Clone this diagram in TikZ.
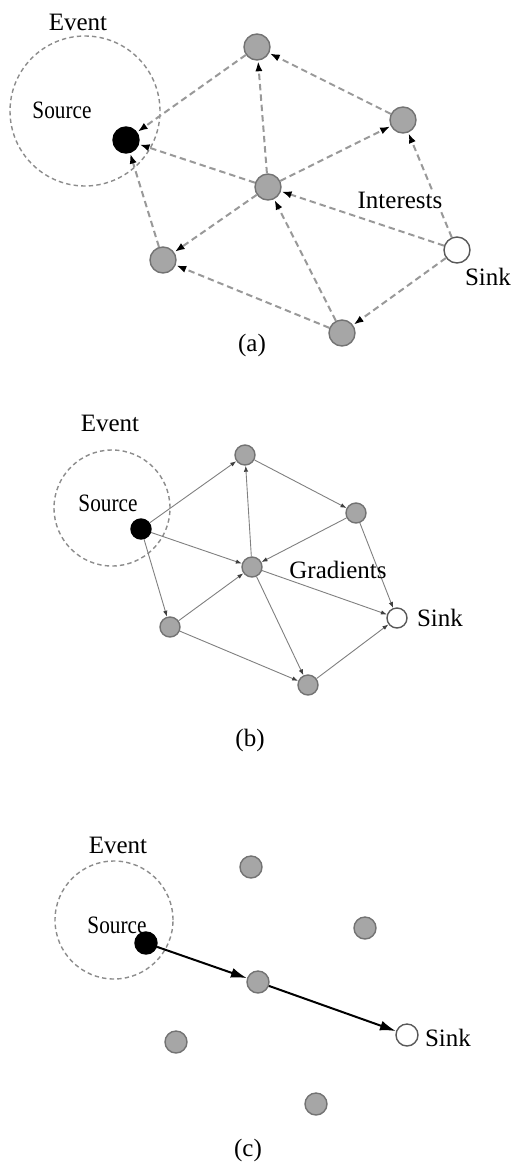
\documentclass[tikz,border=0pt]{standalone}
\usepackage{fontspec}
\usepackage{graphicx}
\setmainfont{Liberation Serif}
\usetikzlibrary{arrows.meta}

\tikzset{
    sensor/.style={circle, draw=black!55, fill=black!35, line width=0.7pt, inner sep=0pt, minimum size=#1},
    sensor/.default=13pt,
    srcnode/.style={sensor=#1, fill=black, draw=black},
    srcnode/.default=13pt,
    sinknode/.style={sensor=#1, fill=white, draw=black!65},
    sinknode/.default=13pt,
    eventring/.style={draw=black!45, line width=0.7pt, dash pattern=on 2.2pt off 1.6pt},
    lbl/.style={font=\fontsize{12.5}{14}\selectfont, inner sep=0pt},
    interest/.style={draw=black!40, line width=1pt, dash pattern=on 3.2pt off 2pt,
        -{Latex[length=5pt,width=3.6pt,black]}, shorten >=0.3pt},
    gradient/.style={draw=black!50, line width=0.45pt,
        -{Latex[length=3pt,width=2.2pt,black!75]}},
    path/.style={draw=black, line width=1pt, -{Latex[length=8pt,width=5pt]}}
}
\newcommand{\srclabel}{\scalebox{0.85}[1]{Source}}

\begin{document}
\begin{tikzpicture}[x=0.5pt, y=-0.5pt]
    \useasboundingbox[fill=white] (0,0) rectangle (514,1168);

    % (a) interests
    \draw[eventring] (85,111) circle (37.5pt);
    \node[lbl] (evA) at (78,22) {Event};
    \node[lbl] (srcA-l) at (62,110) {\srclabel};

    \node[srcnode] (srcA) at (126,140) {};
    \node[sensor] (topA) at (257,47) {};
    \node[sensor] (rgtA) at (403,120) {};
    \node[sensor] (ctrA) at (268,187) {};
    \node[sensor] (lbA) at (163,260) {};
    \node[sensor] (botA) at (342,333) {};
    \node[sinknode] (sinkA) at (457,250) {};

    \draw[interest] (sinkA) -- (rgtA);
    \draw[interest] (sinkA) -- (ctrA);
    \draw[interest] (sinkA) -- (botA);
    \draw[interest] (rgtA) -- (topA);
    \draw[interest] (ctrA) -- (rgtA);
    \draw[interest] (ctrA) -- (topA);
    \draw[interest] (ctrA) -- (srcA);
    \draw[interest] (ctrA) -- (lbA);
    \draw[interest] (botA) -- (ctrA);
    \draw[interest] (botA) -- (lbA);
    \draw[interest] (topA) -- (srcA);
    \draw[interest] (lbA) -- (srcA);

    \node[lbl, fill=white, inner sep=0.5pt] (intA) at (400,200) {Interests};
    \node[lbl] (sinkA-l) at (488,277) {Sink};
    \node[lbl] (capA) at (252,345) {(a)};

    % (b) gradients
    \draw[eventring] (112,508) circle (29pt);
    \node[lbl] (evB) at (110,423) {Event};
    \node[lbl] (srcB-l) at (108,503) {\srclabel};

    \node[srcnode=10pt] (srcB) at (141,529) {};
    \node[sensor=10pt] (topB) at (245,455) {};
    \node[sensor=10pt] (rgtB) at (356,513) {};
    \node[sensor=10pt] (ctrB) at (252,567) {};
    \node[sensor=10pt] (lbB) at (170,627) {};
    \node[sensor=10pt] (botB) at (308,685) {};
    \node[sinknode=10pt] (sinkB) at (397,618) {};

    \draw[gradient] (srcB) -- (topB);
    \draw[gradient] (srcB) -- (ctrB);
    \draw[gradient] (srcB) -- (lbB);
    \draw[gradient] (topB) -- (rgtB);
    \draw[gradient] (ctrB) -- (topB);
    \draw[gradient] (rgtB) -- (ctrB);
    \draw[gradient] (rgtB) -- (sinkB);
    \draw[gradient] (ctrB) -- (sinkB);
    \draw[gradient] (ctrB) -- (botB);
    \draw[gradient] (lbB) -- (ctrB);
    \draw[gradient] (lbB) -- (botB);
    \draw[gradient] (botB) -- (sinkB);

    \node[lbl] (gradB) at (338,570) {Gradients};
    \node[lbl] (sinkB-l) at (440,618) {Sink};
    \node[lbl] (capB) at (250,740) {(b)};

    % (c) reinforced path
    \draw[eventring] (114,920) circle (29.5pt);
    \node[lbl] (evC) at (118,845) {Event};
    \node[lbl] (srcC-l) at (117,925) {\srclabel};

    \node[srcnode=11pt] (srcC) at (146,943) {};
    \node[sensor=11pt] (topC) at (251,867) {};
    \node[sensor=11pt] (rgtC) at (365,928) {};
    \node[sensor=11pt] (ctrC) at (258,982) {};
    \node[sensor=11pt] (lbC) at (176,1042) {};
    \node[sensor=11pt] (botC) at (316,1104) {};
    \node[sinknode=11pt] (sinkC) at (407,1035) {};

    \draw[path] (srcC) -- (ctrC);
    \draw[path] (ctrC) -- (sinkC);

    \node[lbl] (sinkC-l) at (448,1038) {Sink};
    \node[lbl] (capC) at (248,1150) {(c)};
\end{tikzpicture}
\end{document}
